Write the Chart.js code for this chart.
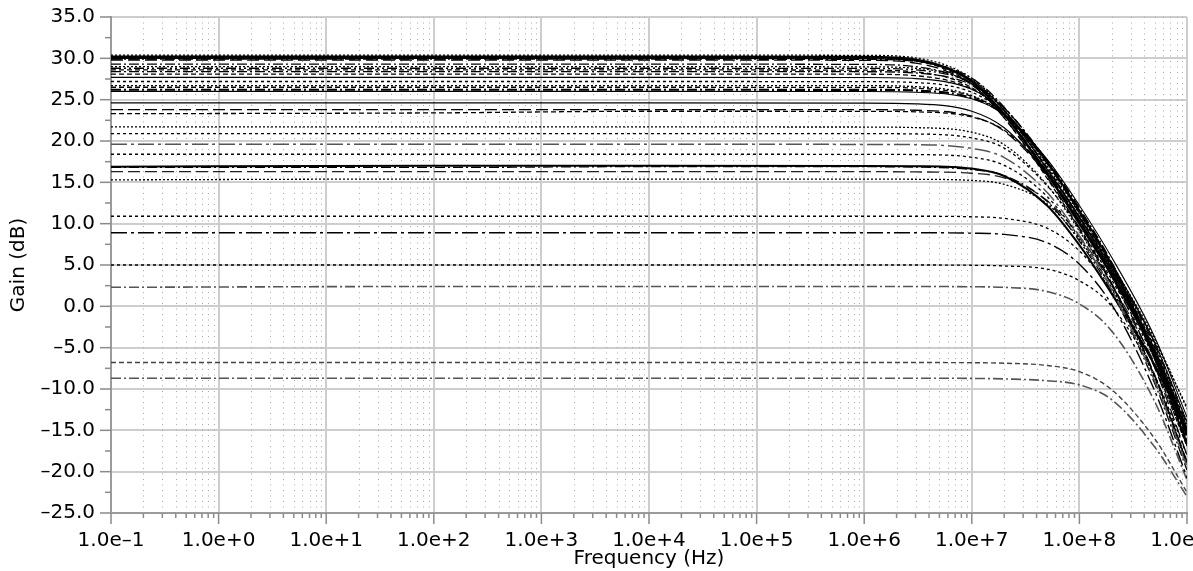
<!DOCTYPE html>
<html>
<head>
<meta charset="utf-8">
<script src="https://cdn.jsdelivr.net/npm/chart.js@4.4.1/dist/chart.umd.min.js"></script>
<style>
  html, body { margin: 0; padding: 0; background: #fff; overflow: hidden; }
  #wrap { position: relative; width: 1193px; height: 571px; }
</style>
</head>
<body>
<div id="wrap"><canvas id="c"></canvas></div>
<script>
// Sample frequencies (Hz) shared by every gain curve
const freqHz = [0.1, 1e2, 1e4, 1e6, 3e6, 1e7, 2e7, 5e7, 1e8, 2e8, 5e8, 1e9];

// Gain (dB) of each simulated corner, one array per curve
const g01 = [30.4, 30.4, 30.4, 30.36, 30.06, 27.6, 23.8, 16.7, 10.8, 4.6, -4.2, -12.2];
const g02 = [30.2, 30.2, 30.2, 30.16, 29.83, 27.2, 23.2, 16.05, 10.0, 3.7, -5.9, -15.6];
const g03 = [30.1, 30.1, 30.1, 30.05, 29.7, 26.9, 22.8, 15.5, 9.3, 2.6, -8.4, -18.9];
const g04 = [30.0, 30.0, 30.0, 29.96, 29.7, 27.4, 23.7, 16.6, 10.7, 4.3, -5.3, -15.0];
const g05 = [29.9, 29.9, 29.9, 29.87, 29.64, 27.6, 24.1, 17.3, 11.3, 4.9, -4.7, -14.3];
const g06 = [29.8, 29.8, 29.8, 29.76, 29.43, 26.8, 22.8, 15.65, 9.5, 2.8, -8.3, -18.8];
const g07 = [29.3, 29.3, 29.3, 29.27, 29.0, 26.9, 23.3, 16.3, 10.4, 4.0, -5.7, -15.3];
const g08 = [29.0, 29.0, 29.0, 28.97, 28.8, 27.0, 23.7, 17.0, 11.2, 5.0, -3.9, -12.4];
const g09 = [28.8, 28.8, 28.8, 28.78, 28.6, 27.0, 24.0, 17.5, 11.3, 4.7, -6.4, -16.8];
const g10 = [28.6, 28.6, 28.6, 28.57, 28.36, 26.45, 23.1, 16.3, 10.4, 4.0, -5.6, -15.3];
const g11 = [28.4, 28.4, 28.4, 28.38, 28.23, 26.8, 24.0, 17.6, 11.5, 4.9, -6.2, -16.7];
const g12 = [28.1, 28.1, 28.1, 28.08, 27.9, 26.3, 23.3, 16.8, 10.8, 4.5, -5.2, -14.7];
const g13 = [27.7, 27.7, 27.7, 27.68, 27.55, 26.25, 23.6, 17.4, 11.6, 5.2, -4.4, -14.0];
const g14 = [27.2, 27.2, 27.2, 27.18, 27.07, 25.9, 23.4, 17.3, 11.4, 4.7, -6.3, -16.8];
const g15 = [26.7, 26.7, 26.7, 26.69, 26.58, 25.5, 23.2, 17.3, 11.6, 5.2, -4.4, -14.0];
const g16 = [26.5, 26.5, 26.5, 26.49, 26.39, 25.4, 23.3, 17.5, 11.6, 5.0, -6.0, -16.5];
const g17 = [26.2, 26.2, 26.2, 26.19, 26.1, 25.2, 23.2, 17.6, 11.8, 5.2, -5.9, -16.4];
const g18 = [26.0, 26.0, 26.0, 25.99, 25.9, 25.1, 23.2, 17.8, 12.2, 5.9, -3.7, -13.4];
const g19 = [24.6, 24.6, 24.6, 24.59, 24.5, 23.6, 21.6, 16.0, 10.3, 4.1, -5.6, -15.2];
const g20 = [23.8, 23.8, 23.8, 23.79, 23.72, 23.0, 21.2, 15.9, 10.1, 3.6, -7.4, -18.0];
const g21 = [23.3, 23.4, 23.6, 23.59, 23.53, 22.9, 21.3, 16.3, 10.9, 4.6, -5.0, -14.6];
const g22 = [21.7, 21.7, 21.7, 21.69, 21.62, 21.06, 19.55, 14.7, 9.1, 2.6, -8.4, -18.9];
const g23 = [20.9, 20.9, 20.9, 20.89, 20.85, 20.37, 19.14, 14.6, 9.5, 3.2, -6.4, -16.0];
const g24 = [19.6, 19.6, 19.6, 19.59, 19.56, 19.1, 18.0, 13.8, 8.5, 2.0, -9.0, -19.4];
const g25 = [18.4, 18.4, 18.4, 18.39, 18.36, 18.03, 17.06, 13.3, 8.3, 2.2, -7.3, -16.9];
const g26 = [16.9, 17.0, 17.0, 16.99, 16.96, 16.66, 15.77, 12.2, 7.4, 1.5, -7.1, -15.1];
const g27 = [16.8, 16.8, 16.9, 16.89, 16.85, 16.54, 15.83, 12.7, 7.9, 1.7, -9.3, -19.8];
const g28 = [16.3, 16.3, 16.3, 16.29, 16.26, 16.1, 15.53, 12.8, 8.5, 2.6, -6.9, -16.4];
const g29 = [15.3, 15.4, 15.4, 15.39, 15.37, 15.23, 14.76, 12.4, 8.1, 2.1, -8.7, -19.2];
const g30 = [10.9, 10.9, 10.9, 10.9, 10.9, 10.83, 10.64, 9.45, 6.7, 1.8, -7.3, -16.9];
const g31 = [8.9, 8.9, 8.9, 8.9, 8.9, 8.85, 8.7, 7.7, 5.1, 0.2, -10.2, -20.7];
const g32 = [5.0, 5.0, 5.0, 5.0, 5.0, 4.97, 4.88, 4.5, 3.1, 0.0, -8.4, -18.0];
const g33 = [2.3, 2.4, 2.4, 2.4, 2.4, 2.37, 2.3, 1.8, 0.3, -3.0, -11.5, -21.0];
const g34 = [-6.8, -6.8, -6.8, -6.8, -6.8, -6.82, -6.88, -7.15, -7.9, -10.1, -16.0, -22.5];
const g35 = [-8.7, -8.7, -8.7, -8.7, -8.7, -8.72, -8.78, -9.0, -9.5, -11.3, -17.0, -23.0];

const curves = [g01, g02, g03, g04, g05, g06, g07, g08, g09, g10, g11, g12, g13, g14, g15, g16, g17, g18,
                g19, g20, g21, g22, g23, g24, g25, g26, g27, g28, g29, g30, g31, g32, g33, g34, g35];

// Axis ticks
const decadeExponents = [-1, 0, 1, 2, 3, 4, 5, 6, 7, 8, 9];
const mantissas = [1, 2, 3, 4, 5, 6, 7, 8, 9];
const yMin = -25, yMax = 35, yStep = 2.5;

// Line styles, one per curve
const DASH = {
  solid: [], dot: [2, 2], dash: [5, 3], sdash: [3, 3], ldash: [12, 5],
  dashdot: [10, 3, 2, 3], dashdot2: [10, 3, 2, 3, 2, 3], ldashdot: [16, 4, 3, 4]
};
const styles = [
  ['dot', 1.3, '#000'], ['solid', 2.4, '#000'], ['dash', 1.3, '#000'], ['solid', 1.3, '#000'],
  ['dashdot', 1.3, '#000'], ['ldash', 1.3, '#000'], ['dashdot', 1.3, '#000'], ['dot', 1.3, '#000'],
  ['dashdot2', 1.3, '#000'], ['dash', 1.3, '#000'], ['dashdot', 1.3, '#000'], ['dash', 1.3, '#000'],
  ['solid', 1.1, '#000'], ['sdash', 1.3, '#000'], ['dot', 1.3, '#000'], ['dash', 1.3, '#000'],
  ['dashdot', 2.2, '#000'], ['solid', 1.1, '#000'], ['solid', 1.2, '#000'], ['ldash', 1.3, '#000'],
  ['dash', 1.3, '#000'], ['dot', 1.3, '#000'], ['sdash', 1.3, '#000'], ['ldashdot', 1.5, '#555'],
  ['sdash', 1.3, '#000'], ['solid', 2.0, '#000'], ['dashdot', 1.3, '#000'], ['ldash', 1.3, '#222'],
  ['dot', 1.3, '#000'], ['sdash', 1.3, '#000'], ['ldashdot', 1.4, '#000'], ['sdash', 1.3, '#000'],
  ['dashdot', 1.6, '#555'], ['dash', 1.4, '#444'], ['dashdot', 1.6, '#555']
];

const datasets = curves.map((c, i) => ({
  data: freqHz.map((f, k) => ({ x: f, y: c[k] })),
  borderColor: styles[i][2],
  borderWidth: styles[i][1],
  borderDash: DASH[styles[i][0]],
  pointRadius: 0,
  fill: false,
  cubicInterpolationMode: 'monotone'
}));

const isDecade = v => Math.abs(Math.log10(v) - Math.round(Math.log10(v))) < 1e-9;
const xTickValues = [];
decadeExponents.forEach(e => {
  if (e === decadeExponents[decadeExponents.length - 1]) { xTickValues.push(Math.pow(10, e)); return; }
  mantissas.forEach(m => xTickValues.push(m * Math.pow(10, e)));
});

const FONT = 'DejaVu Sans';

// Minor dotted grid and outward tick marks
const gridAndTicks = {
  id: 'gridAndTicks',
  beforeDatasetsDraw(chart) {
    const { ctx, chartArea: a, scales: { x } } = chart;
    ctx.save();
    ctx.strokeStyle = '#a9a9a9';
    ctx.lineWidth = 1;
    ctx.setLineDash([1, 4.5]);
    xTickValues.forEach(v => {
      if (isDecade(v)) return;
      const px = Math.round(x.getPixelForValue(v)) + 0.5;
      ctx.beginPath();
      ctx.moveTo(px, a.top);
      ctx.lineTo(px, a.bottom);
      ctx.stroke();
    });
    ctx.restore();
  },
  afterDraw(chart) {
    const { ctx, chartArea: a, scales: { x, y } } = chart;
    ctx.save();
    ctx.strokeStyle = '#8a8a8a';
    ctx.lineWidth = 1.5;
    xTickValues.forEach(v => {
      const px = x.getPixelForValue(v);
      const len = isDecade(v) ? 11 : 5;
      ctx.beginPath();
      ctx.moveTo(px, a.bottom);
      ctx.lineTo(px, a.bottom + len);
      ctx.stroke();
    });
    for (let v = yMin; v <= yMax + 1e-9; v += yStep) {
      const py = y.getPixelForValue(v);
      const len = (Math.abs(v % 5) < 1e-9) ? 11 : 6;
      ctx.beginPath();
      ctx.moveTo(a.left, py);
      ctx.lineTo(a.left - len, py);
      ctx.stroke();
    }
    ctx.restore();
  }
};

new Chart(document.getElementById('c'), {
  type: 'line',
  data: { datasets },
  plugins: [gridAndTicks],
  options: {
    responsive: true,
    maintainAspectRatio: false,
    animation: false,
    layout: { padding: { left: 2, right: 6, top: 17, bottom: 0 } },
    plugins: { legend: { display: false }, tooltip: { enabled: false } },
    scales: {
      x: {
        type: 'logarithmic',
        min: 0.1,
        max: 1e9,
        afterBuildTicks: s => { s.ticks = xTickValues.map(v => ({ value: v, major: isDecade(v) })); },
        afterFit: s => { s.height = 58; s.paddingLeft = 0; s.paddingRight = 0; },
        grid: {
          drawTicks: false,
          color: c => (c.tick && isDecade(c.tick.value)) ? '#cdcdcd' : 'rgba(0,0,0,0)',
          lineWidth: 2
        },
        border: { color: '#9b9b9b', width: 2 },
        ticks: {
          autoSkip: false,
          maxRotation: 0,
          padding: 16,
          color: '#000',
          font: { family: FONT, size: 20 },
          callback: v => {
            if (!isDecade(v)) return '';
            const e = Math.round(Math.log10(v));
            return '1.0e' + (e < 0 ? '\u2013' : '+') + Math.abs(e);
          }
        },
        title: {
          display: true,
          text: 'Frequency (Hz)',
          color: '#000',
          font: { family: FONT, size: 20 },
          padding: { top: 0, bottom: 0 }
        }
      },
      y: {
        type: 'linear',
        min: yMin,
        max: yMax,
        afterFit: s => { s.width = 109; s.paddingTop = 0; s.paddingBottom = 0; },
        grid: {
          drawTicks: false,
          color: c => (c.tick && Math.abs(c.tick.value % 5) < 1e-9) ? '#cdcdcd' : 'rgba(0,0,0,0)',
          lineWidth: 2
        },
        border: { color: '#9b9b9b', width: 2 },
        ticks: {
          stepSize: yStep,
          autoSkip: false,
          padding: 16,
          color: '#000',
          font: { family: FONT, size: 20 },
          callback: v => (Math.abs(v % 5) < 1e-9) ? v.toFixed(1).replace('-', '\u2013') : ''
        },
        title: {
          display: true,
          text: 'Gain (dB)',
          color: '#000',
          font: { family: FONT, size: 20 },
          padding: { top: 5, bottom: 0 }
        }
      }
    }
  }
});
</script>
</body>
</html>
